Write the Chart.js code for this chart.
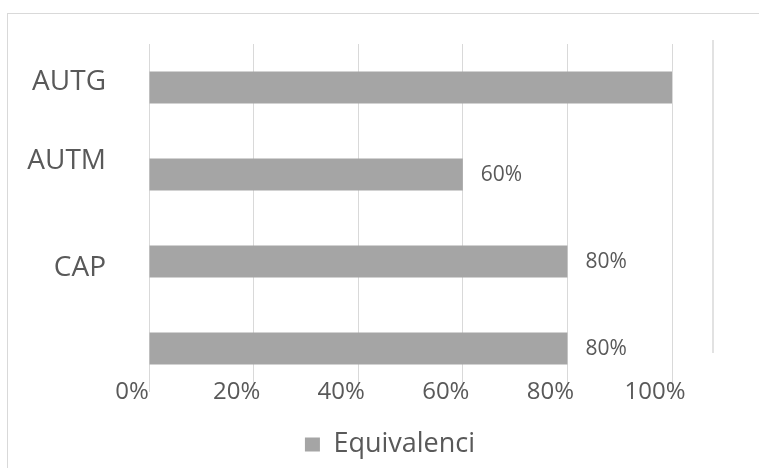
<!DOCTYPE html>
<html>
<head>
<meta charset="utf-8">
<script src="https://cdn.jsdelivr.net/npm/chart.js@4.4.0/dist/chart.umd.min.js"></script>
<style>
  body{margin:0;background:#fff;}
  #wrap{position:relative;width:759px;height:468px;}
  #frame{position:absolute;left:7px;top:13px;width:800px;height:500px;border-left:1px solid #d9d9d9;border-top:1px solid #d9d9d9;}
  canvas{position:absolute;left:0;top:0;}
</style>
</head>
<body>
<div id="wrap">
  <div id="frame"></div>
  <canvas id="myChart" width="759" height="468"></canvas>
</div>
<script>
// data
var categories = ['AUTG', 'AUTM', 'CAP', ''];
var values = [100, 60, 80, 80];
var seriesName = 'Equivalenci';
var tickValues = [0, 20, 40, 60, 80, 100];

var textColor = '#595959';
var barColor = '#a5a5a5';
var gridColor = '#d9d9d9';
var fontName = '"Open Sans", sans-serif';

// category labels sit a bit off the bar centres in the original
var labelShift = [-5, -13, 7, 0];

var catLabels = {
  id: 'catLabels',
  afterDraw: function(chart){
    var ctx = chart.ctx;
    var y = chart.scales.y;
    ctx.save();
    ctx.font = '28px ' + fontName;
    ctx.fillStyle = textColor;
    ctx.textAlign = 'right';
    ctx.textBaseline = 'middle';
    for(var i=0;i<categories.length;i++){
      ctx.fillText(categories[i], 106, y.getPixelForValue(i) + labelShift[i]);
    }
    ctx.restore();
  }
};

// value labels to the right of each bar (100% one is cut off in the original)
var valueLabels = {
  id: 'valueLabels',
  afterDatasetsDraw: function(chart){
    var ctx = chart.ctx;
    var meta = chart.getDatasetMeta(0);
    ctx.save();
    ctx.font = '21px ' + fontName;
    ctx.fillStyle = textColor;
    ctx.textAlign = 'left';
    ctx.textBaseline = 'middle';
    meta.data.forEach(function(bar, i){
      if(values[i] >= 100) return;
      ctx.fillText(values[i] + '%', bar.x + 18, bar.y + 1);
    });
    ctx.restore();
  }
};

// the stray vertical line right of the plot
var sideLine = {
  id: 'sideLine',
  beforeDatasetsDraw: function(chart){
    var a = chart.chartArea;
    var ctx = chart.ctx;
    ctx.save();
    ctx.strokeStyle = gridColor;
    ctx.lineWidth = 1.5;
    ctx.beginPath();
    ctx.moveTo(a.right + 41, a.top - 4);
    ctx.lineTo(a.right + 41, 353);
    ctx.stroke();
    ctx.restore();
  }
};

var ctx = document.getElementById('myChart').getContext('2d');
var myChart = new Chart(ctx, {
  type: 'bar',
  data: {
    labels: categories,
    datasets: [{
      label: seriesName,
      data: values,
      backgroundColor: barColor,
      categoryPercentage: 1,
      barPercentage: 0.365
    }]
  },
  options: {
    indexAxis: 'y',
    responsive: false,
    animation: false,
    layout: { padding: { left: 108, right: 87, top: 44, bottom: 0 } },
    scales: {
      x: {
        min: 0,
        max: 100,
        afterBuildTicks: function(axis){
          axis.ticks = tickValues.map(function(v){ return {value: v}; });
        },
        afterFit: function(axis){
          axis.height = 21; //labels overlap the plot bottom like the original
        },
        grid: { color: gridColor, drawTicks: false },
        border: { display: false },
        ticks: {
          color: textColor,
          font: { family: fontName, size: 24 },
          mirror: true,
          padding: -15,
          labelOffset: -17,
          maxRotation: 0,
          callback: function(v){ return v + '%'; }
        }
      },
      y: {
        grid: { display: false },
        border: { display: false },
        ticks: { display: false },
        afterFit: function(axis){
          axis.width = 41; //room for the category names drawn by catLabels
        }
      }
    },
    plugins: {
      legend: {
        position: 'bottom',
        labels: {
          color: textColor,
          font: { family: fontName, size: 27 },
          boxWidth: 15,
          boxHeight: 14,
          padding: 18
        }
      },
      tooltip: { enabled: false }
    }
  },
  plugins: [catLabels, valueLabels, sideLine]
});
</script>
</body>
</html>
